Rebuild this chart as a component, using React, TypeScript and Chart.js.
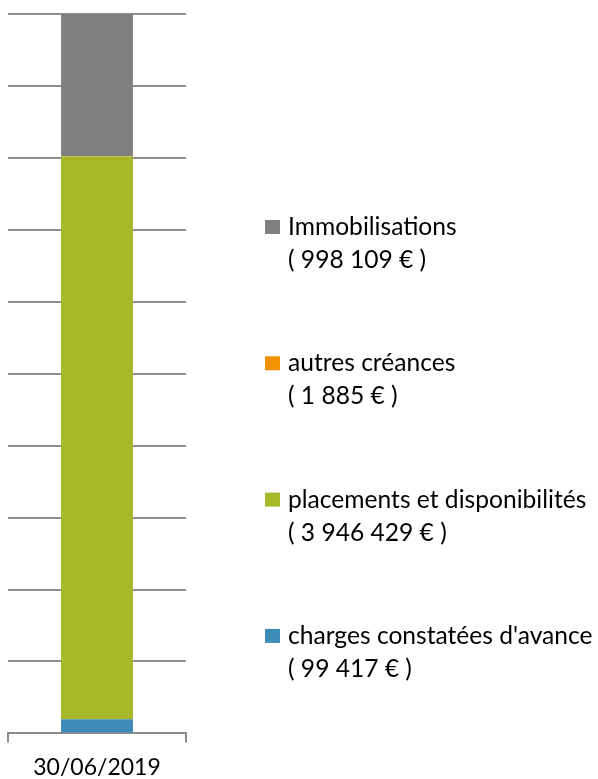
import React, { useEffect, useRef } from "react";
import { Chart, registerables } from "chart.js";

Chart.register(...registerables);

const categories = ["30/06/2019"];
const seriesNames = [
  "charges constatées d'avance",
  "placements et disponibilités",
  "autres créances",
  "Immobilisations",
];
const seriesValues = [99417, 3946429, 1885, 998109];
const seriesColors = ["#3f8bb7", "#a7b829", "#f39200", "#808080"];

const FONT = "Lato, 'Open Sans', sans-serif";

const total = seriesValues.reduce((a, b) => a + b, 0);
const fmt = (v: number) => String(v).replace(/\B(?=(\d{3})+(?!\d))/g, " ");

const legendPlugin = {
  id: "sideLegend",
  afterDraw(chart: any) {
    const ctx = chart.ctx;
    ctx.save();
    ctx.font = `24.6px ${FONT}`;
    ctx.textBaseline = "alphabetic";
    const n = seriesNames.length;
    for (let k = 0; k < n; k++) {
      const i = n - 1 - k;
      const cy = 227 + k * 136.3;
      ctx.fillStyle = seriesColors[i];
      ctx.fillRect(265, cy - 7, 15, 14);
      ctx.fillStyle = "#000";
      ctx.fillText(seriesNames[i], 288, cy + 8);
      ctx.fillText(`( ${fmt(seriesValues[i])} € )`, 288, cy + 41);
    }
    ctx.restore();
  },
};

export default function App() {
  const ref = useRef<HTMLCanvasElement>(null);
  useEffect(() => {
    if (!ref.current) return;
    const chart = new Chart(ref.current, {
      type: "bar",
      data: {
        labels: categories,
        datasets: seriesNames.map((name, i) => ({
          label: name,
          data: [(seriesValues[i] / total) * 100],
          backgroundColor: seriesColors[i],
          borderWidth: 0,
          categoryPercentage: 1,
          barPercentage: 0.404,
        })),
      },
      options: {
        animation: false,
        responsive: false,
        maintainAspectRatio: false,
        layout: { padding: { left: 8, right: 412, top: 14, bottom: 0 } },
        plugins: { legend: { display: false }, tooltip: { enabled: false } },
        scales: {
          x: {
            stacked: true,
            offset: true,
            grid: {
              offset: true,
              drawOnChartArea: false,
              drawTicks: true,
              tickLength: 9,
              color: "#8c8c8c",
              lineWidth: 2,
            },
            border: { display: true, color: "#8c8c8c", width: 2 },
            ticks: {
              color: "#000",
              font: { family: FONT, size: 23 },
              padding: 11,
            },
          },
          y: {
            stacked: true,
            min: 0,
            max: 100,
            ticks: { display: false, stepSize: 10 },
            grid: { drawTicks: false, color: "#909090", lineWidth: 2 },
            border: { display: false },
          },
        },
      },
      plugins: [legendPlugin],
    });
    return () => chart.destroy();
  }, []);
  return (
    <div style={{ position: "fixed", left: 0, top: 0, width: 598, height: 792, overflow: "visible" }}>
      <canvas ref={ref} width={598} height={792} style={{ display: "block" }} />
    </div>
  );
}
